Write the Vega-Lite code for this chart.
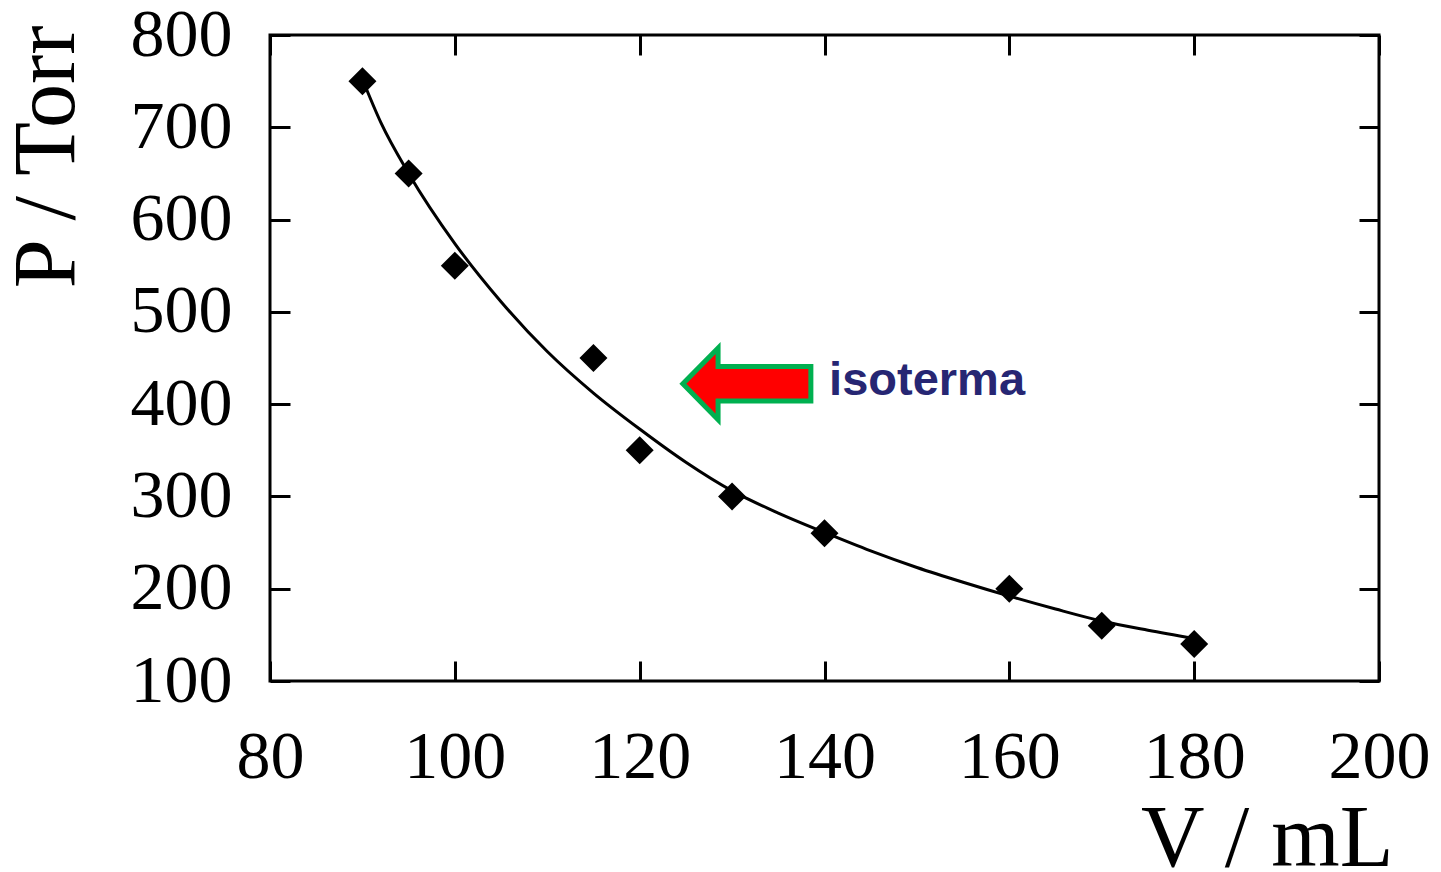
{
  "$schema": "https://vega.github.io/schema/vega-lite/v6.json",
  "width": 1109,
  "height": 646,
  "autosize": "none",
  "padding": {"left": 270, "top": 35, "right": 62, "bottom": 191},
  "background": "white",
  "config": {
    "view": {"stroke": "black", "strokeWidth": 3},
    "axis": {
      "domain": false,
      "grid": false,
      "ticks": true,
      "tickColor": "black",
      "tickWidth": 3,
      "tickSize": -20,
      "labelFont": "Liberation Serif",
      "labelFontSize": 68,
      "labelColor": "black",
      "labelOverlap": false,
      "labelFlush": false,
      "titleFont": "Liberation Serif",
      "titleFontSize": 88,
      "titleFontWeight": "normal",
      "titleColor": "black"
    }
  },
  "resolve": {"axis": {"x": "independent", "y": "independent"}},
  "layer": [
    {
      "data": {"values": [
        {"V": 90, "P": 752}, {"V": 92, "P": 705}, {"V": 95, "P": 650},
        {"V": 100, "P": 574}, {"V": 105, "P": 511}, {"V": 110, "P": 457},
        {"V": 115, "P": 412}, {"V": 120, "P": 373}, {"V": 125, "P": 337},
        {"V": 130, "P": 306}, {"V": 135, "P": 282}, {"V": 140, "P": 261},
        {"V": 145, "P": 241}, {"V": 150, "P": 223}, {"V": 155, "P": 207},
        {"V": 160, "P": 192}, {"V": 165, "P": 178}, {"V": 170, "P": 165},
        {"V": 175, "P": 155}, {"V": 180, "P": 146}
      ]},
      "mark": {"type": "line", "interpolate": "monotone", "color": "black", "strokeWidth": 3},
      "encoding": {
        "x": {"field": "V", "type": "quantitative",
              "scale": {"domain": [80, 200], "nice": false, "zero": false},
              "axis": {"orient": "bottom", "values": [80, 100, 120, 140, 160, 180, 200],
                       "title": "V / mL", "labelPadding": 62,
                       "titleAnchor": "end", "titleAlign": "right", "titleBaseline": "alphabetic",
                       "titleX": 1123, "titleY": 184}},
        "y": {"field": "P", "type": "quantitative",
              "scale": {"domain": [100, 800], "nice": false, "zero": false},
              "axis": {"orient": "left", "values": [100, 200, 300, 400, 500, 600, 700, 800],
                       "title": "P / Torr", "labelPadding": 58,
                       "titleAngle": 270, "titleAnchor": "end", "titleAlign": "right", "titleBaseline": "alphabetic",
                       "titleX": -197, "titleY": -10}}
      }
    },
    {
      "data": {"values": [
        {"V": 90, "P": 750}, {"V": 95, "P": 650}, {"V": 100, "P": 550},
        {"V": 115, "P": 450}, {"V": 120, "P": 350}, {"V": 130, "P": 300},
        {"V": 140, "P": 260}, {"V": 160, "P": 200}, {"V": 170, "P": 160},
        {"V": 180, "P": 140}
      ]},
      "mark": {"type": "point", "shape": "diamond", "filled": true, "size": 784, "color": "black", "opacity": 1},
      "encoding": {
        "x": {"field": "V", "type": "quantitative",
              "axis": {"orient": "top", "values": [80, 100, 120, 140, 160, 180, 200], "labels": false, "title": null}},
        "y": {"field": "P", "type": "quantitative",
              "axis": {"orient": "right", "values": [100, 200, 300, 400, 500, 600, 700, 800], "labels": false, "title": null}}
      }
    },
    {
      "data": {"values": [{"V": 131.6, "P": 422}]},
      "mark": {"type": "point", "filled": true, "opacity": 1, "size": 16384,
               "shape": "M -1 0 L -0.45 -0.56 L -0.45 -0.27 L 1 -0.27 L 1 0.27 L -0.45 0.27 L -0.45 0.56 Z",
               "fill": "#ff0000", "stroke": "#00b050", "strokeWidth": 5, "strokeOpacity": 1, "fillOpacity": 1},
      "encoding": {
        "x": {"field": "V", "type": "quantitative", "axis": null},
        "y": {"field": "P", "type": "quantitative", "axis": null}
      }
    },
    {
      "data": {"values": [{"V": 140.5, "P": 410, "label": "isoterma"}]},
      "mark": {"type": "text", "align": "left", "baseline": "alphabetic",
               "font": "Liberation Sans", "fontWeight": "bold", "fontSize": 47, "color": "#262673"},
      "encoding": {
        "x": {"field": "V", "type": "quantitative", "axis": null},
        "y": {"field": "P", "type": "quantitative", "axis": null},
        "text": {"field": "label"}
      }
    }
  ]
}
